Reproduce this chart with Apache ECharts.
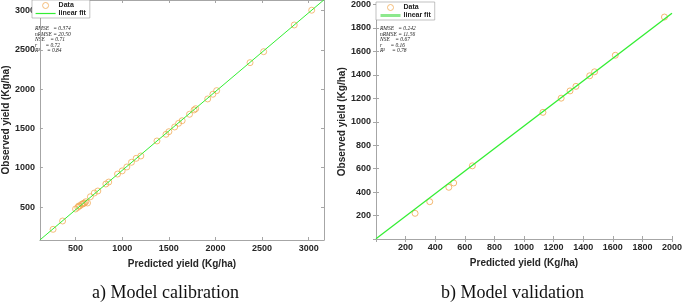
<!DOCTYPE html>
<html>
<head>
<meta charset="utf-8">
<script src="https://cdn.jsdelivr.net/npm/echarts@6/dist/echarts.min.js"></script>
<style>
  html, body { margin: 0; padding: 0; background: #fff; }
  #chart { width: 685px; height: 307px; }
</style>
</head>
<body>
<div id="chart"></div>
<script>
// calibration data (Kg/ha)
const calibPred = [259, 361, 500, 524, 534, 545, 565, 576, 586, 597, 610, 628, 659, 701, 739, 825, 856,
  950, 1000, 1050, 1100, 1150, 1200, 1373, 1470, 1501, 1563, 1605, 1643, 1722, 1771, 1788,
  1917, 1972, 2013, 2371, 2517, 2845, 3032];
const calibObs = [216, 322, 475, 496, 513, 513, 534, 538, 547, 551, 568, 551, 631, 678, 704, 793, 818,
  920, 960, 1010, 1070, 1120, 1150, 1341, 1426, 1459, 1519, 1566, 1599, 1681, 1736, 1752,
  1876, 1936, 1982, 2338, 2478, 2818, 3006];
const calibFit = [1.004, -38]; // slope, intercept
const calibStats = ["0.374", "20.50", "0.71", "0.72", "0.84"];

// validation data (Kg/ha)
const validPred = [264, 363, 492, 525, 651, 1128, 1251, 1311, 1351, 1444, 1477, 1617, 1949];
const validObs = [219, 318, 441, 478, 624, 1080, 1201, 1263, 1302, 1392, 1426, 1567, 1893];
const validFit = [0.962, 2];
const validStats = ["0.242", "11.56", "0.67", "0.16", "0.78"];

const statNames = ["RMSE", "nRMSE", "NSE", "r", "R²"];
const captions = ["a) Model calibration", "b) Model validation"];

const calibRange = [118, 3164, 80, 3136];
const validRange = [0, 2000, 0, 2000];

const frame = "#a6a6a6";
const dotColor = "#f0a850";
const fitColor = "#33ee33";
const labelFont = { color: "#262626", fontSize: 9, fontWeight: "bold", fontFamily: "Liberation Sans" };

function zip(a, b) { return a.map((v, i) => [v, b[i]]); }
function fitLine(f, r) { return [[r[0], f[0] * r[0] + f[1]], [r[1], f[0] * r[1] + f[1]]]; }

function xAxes(gi, r, interval) {
  const base = {
    gridIndex: gi, type: "value", min: r[0], max: r[1], interval: interval,
    splitLine: { show: false },
    axisLine: { lineStyle: { color: frame, width: 1 } },
    axisTick: { inside: true, length: 3, lineStyle: { color: frame } }
  };
  return [
    Object.assign({}, base, {
      position: "bottom",
      name: "Predicted yield (Kg/ha)", nameLocation: "middle", nameGap: 19,
      nameTextStyle: { color: "#262626", fontSize: 10, fontWeight: "bold", fontFamily: "Liberation Sans" },
      axisLabel: Object.assign({ margin: 4, showMinLabel: false,
        formatter: v => (v % (interval || 500) === 0 && v > 0 ? String(v) : "") }, labelFont)
    }),
    Object.assign({}, base, { position: "top", axisLabel: { show: false } })
  ];
}
function yAxes(gi, r, interval, gap) {
  const base = {
    gridIndex: gi, type: "value", min: r[2], max: r[3], interval: interval,
    splitLine: { show: false },
    axisLine: { lineStyle: { color: frame, width: 1 } },
    axisTick: { inside: true, length: 3, lineStyle: { color: frame } }
  };
  return [
    Object.assign({}, base, {
      position: "left",
      name: "Observed yield (Kg/ha)", nameLocation: "middle", nameGap: gap,
      nameTextStyle: { color: "#262626", fontSize: 10, fontWeight: "bold", fontFamily: "Liberation Sans" },
      axisLabel: Object.assign({ margin: 5, showMinLabel: false,
        formatter: v => (v % (interval || 500) === 0 && v > 0 ? String(v) : "") }, labelFont)
    }),
    Object.assign({}, base, { position: "right", axisLabel: { show: false } })
  ];
}

function statsText(left, top, vals) {
  return statNames.map((n, i) => ({
    type: "text", left: left, top: top + i * 5.4,
    style: {
      text: n + (n.length < 5 ? "      ".slice(n.length) : "") + " = " + vals[i],
      fill: "#222", font: "italic 5.5px 'Liberation Serif'"
    }
  }));
}

function legend(left, top, lineColor, lineW) {
  return {
    left: left, top: top, orient: "vertical",
    backgroundColor: "#fff", borderColor: "#999", borderWidth: 0.6,
    padding: [2, 4, 1, 3], itemGap: 1, itemWidth: 20, itemHeight: 6,
    textStyle: { fontSize: 7, fontWeight: "bold", color: "#222", fontFamily: "Liberation Sans", padding: [0, 0, 0, -2] },
    data: [
      { name: "Data", icon: "circle", itemStyle: { color: "#fff", borderColor: dotColor, borderWidth: 1 } },
      { name: "linear fit", lineStyle: { color: lineColor, width: lineW },
        itemStyle: { color: "rgba(0,0,0,0)", borderWidth: 0, opacity: 0 } }
    ]
  };
}

const chart = echarts.init(document.getElementById("chart"), null, { renderer: "canvas" });
chart.setOption({
  backgroundColor: "#fff",
  animation: false,
  grid: [
    { left: 31, top: 0, width: 293, height: 240 },
    { left: 376, top: 2, width: 301, height: 237 }
  ],
  xAxis: xAxes(0, calibRange, null).concat(xAxes(1, validRange, 200)),
  yAxis: yAxes(0, calibRange, null, 25).concat(yAxes(1, validRange, 200, 27)),
  legend: [legend(32, 0, fitColor, 1.2), legend(376, 2, "#8de88d", 3)],
  series: [
    {
      name: "Data", type: "scatter", xAxisIndex: 0, yAxisIndex: 0, symbol: "circle", symbolSize: 6,
      itemStyle: { color: "rgba(255,255,255,0)", borderColor: dotColor, borderWidth: 1, opacity: 0.75 },
      data: zip(calibPred, calibObs)
    },
    {
      name: "linear fit", type: "line", xAxisIndex: 0, yAxisIndex: 0, symbol: "none", clip: true,
      lineStyle: { color: fitColor, width: 1 }, z: 3,
      data: fitLine(calibFit, calibRange)
    },
    {
      name: "Data", type: "scatter", xAxisIndex: 2, yAxisIndex: 2, symbol: "circle", symbolSize: 6,
      itemStyle: { color: "rgba(255,255,255,0)", borderColor: dotColor, borderWidth: 1, opacity: 0.8 },
      data: zip(validPred, validObs)
    },
    {
      name: "linear fit", type: "line", xAxisIndex: 2, yAxisIndex: 2, symbol: "none", clip: true,
      lineStyle: { color: fitColor, width: 1.3 }, z: 3,
      data: fitLine(validFit, validRange)
    }
  ],
  graphic: statsText(35, 26, calibStats).concat(statsText(380, 26, validStats)).concat([
    { type: "text", left: 92, top: 284, style: { text: captions[0], fill: "#111", font: "18px 'Liberation Serif'" } },
    { type: "text", left: 441, top: 284, style: { text: captions[1], fill: "#111", font: "18px 'Liberation Serif'" } }
  ])
});
</script>
</body>
</html>
